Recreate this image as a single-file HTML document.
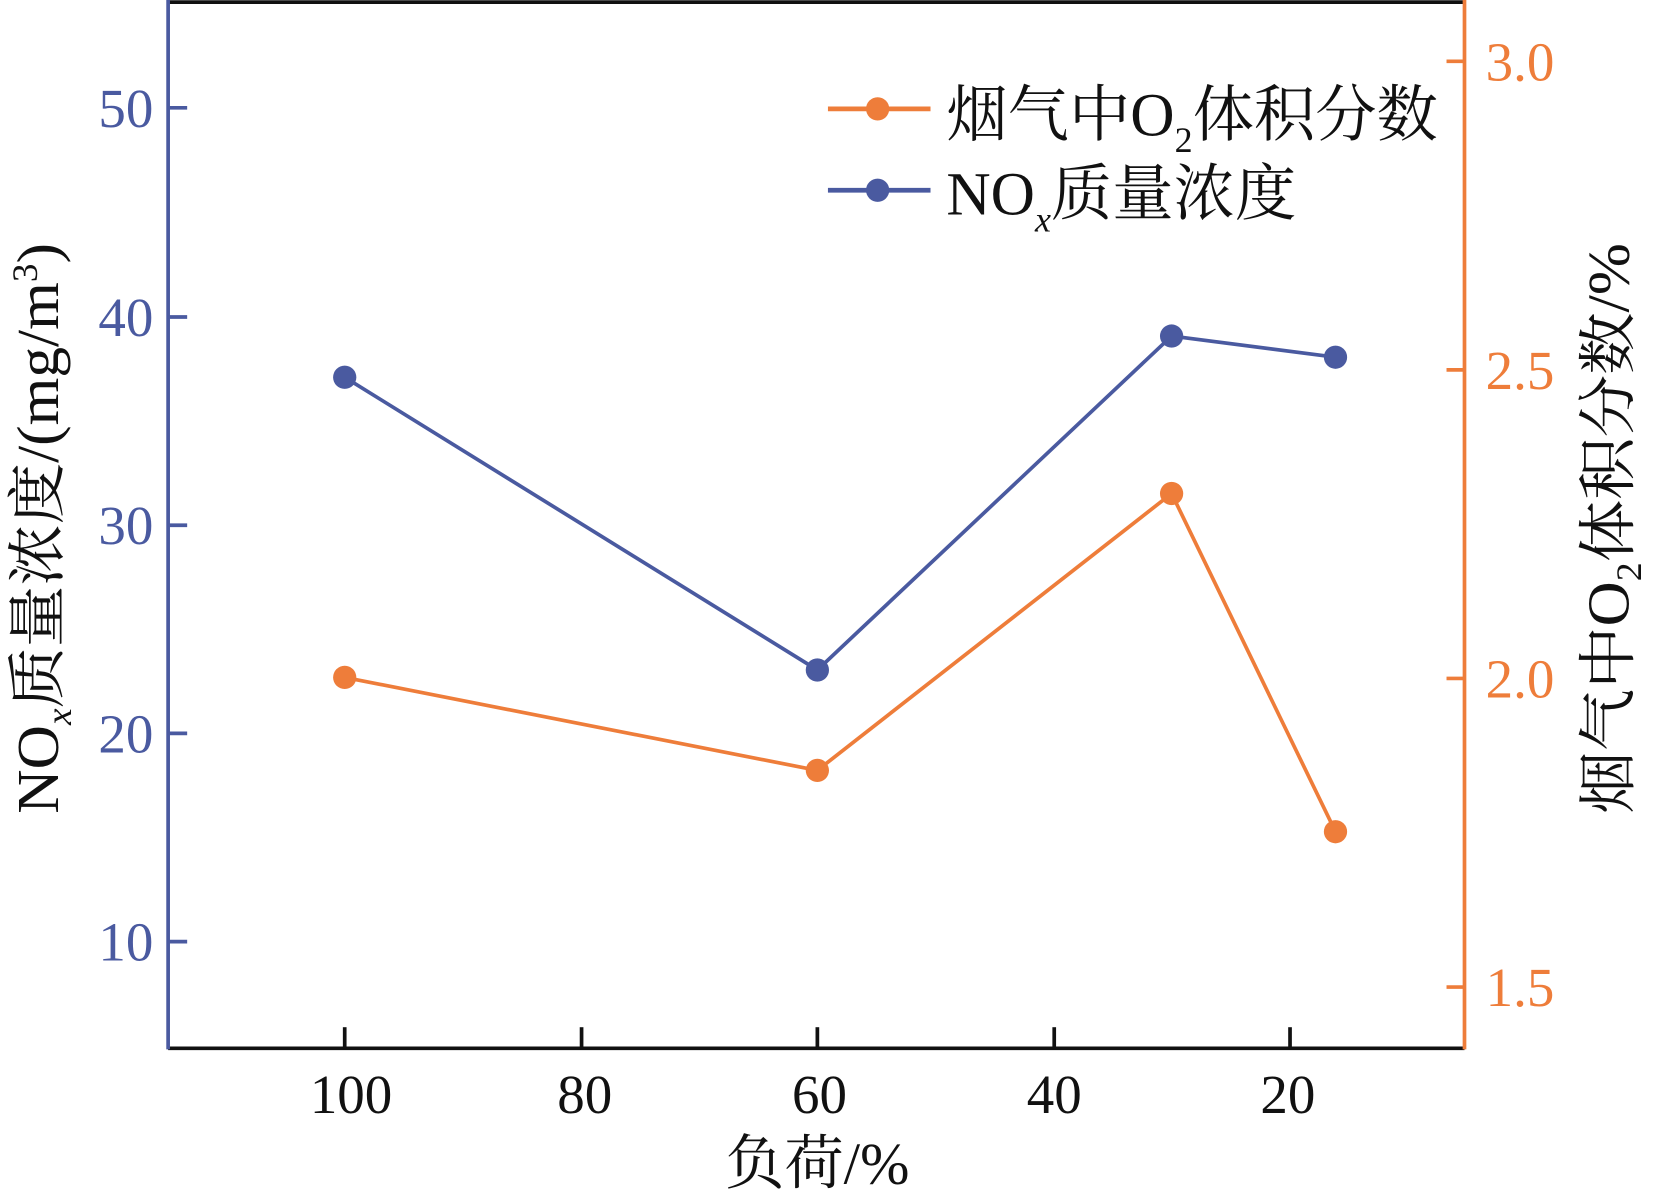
<!DOCTYPE html>
<html><head><meta charset="utf-8"><style>
html,body{margin:0;padding:0;background:#fff;}
svg{display:block;}
</style></head><body>
<svg width="1658" height="1191" viewBox="0 0 1568 1127" preserveAspectRatio="none" xmlns="http://www.w3.org/2000/svg" font-family="Liberation Serif, Noto Serif CJK SC, serif">
<rect width="1568" height="1127" fill="#fff"/>
<line x1="159" y1="2" x2="1385" y2="2" stroke="#111" stroke-width="3.5"/>
<line x1="159" y1="992" x2="1385" y2="992" stroke="#111" stroke-width="3.5"/>
<line x1="159" y1="0" x2="159" y2="993" stroke="#4a5aa0" stroke-width="3.5"/>
<line x1="1385" y1="0" x2="1385" y2="993" stroke="#ee7d3a" stroke-width="3.5"/>
<g stroke="#4a5aa0" stroke-width="3.5">
<line x1="159" y1="102" x2="177" y2="102"/><line x1="159" y1="300" x2="177" y2="300"/>
<line x1="159" y1="497" x2="177" y2="497"/><line x1="159" y1="694" x2="177" y2="694"/>
<line x1="159" y1="891" x2="177" y2="891"/></g>
<g fill="#4a5aa0" font-size="52" text-anchor="end">
<text x="145" y="120">50</text><text x="145" y="318">40</text><text x="145" y="515">30</text>
<text x="145" y="712">20</text><text x="145" y="909">10</text></g>
<g stroke="#ee7d3a" stroke-width="3.5">
<line x1="1368" y1="58" x2="1385" y2="58"/><line x1="1368" y1="350" x2="1385" y2="350"/>
<line x1="1368" y1="642" x2="1385" y2="642"/><line x1="1368" y1="934" x2="1385" y2="934"/></g>
<g fill="#ee7d3a" font-size="52">
<text x="1405" y="76">3.0</text><text x="1405" y="368">2.5</text>
<text x="1405" y="660">2.0</text><text x="1405" y="952">1.5</text></g>
<g stroke="#111" stroke-width="3.5">
<line x1="326" y1="992" x2="326" y2="972"/><line x1="550" y1="992" x2="550" y2="972"/>
<line x1="773" y1="992" x2="773" y2="972"/><line x1="997" y1="992" x2="997" y2="972"/>
<line x1="1220" y1="992" x2="1220" y2="972"/></g>
<g fill="#111" font-size="52" text-anchor="middle">
<text x="332" y="1053">100</text><text x="553" y="1053">80</text><text x="775" y="1053">60</text>
<text x="997" y="1053">40</text><text x="1218" y="1053">20</text></g>
<text x="773" y="1120" font-size="56" text-anchor="middle" fill="#111">负荷/%</text>
<text transform="translate(55,500) rotate(-90)" font-size="56" text-anchor="middle" fill="#111" textLength="540" lengthAdjust="spacingAndGlyphs">NO<tspan font-size="34" font-style="italic" dy="12">x</tspan><tspan dy="-12">质量浓度/(mg/m</tspan><tspan font-size="34" dy="-20">3</tspan><tspan dy="20">)</tspan></text>
<text transform="translate(1540,500) rotate(-90)" font-size="56" text-anchor="middle" fill="#111" textLength="540" lengthAdjust="spacingAndGlyphs">烟气中O<tspan font-size="34" dy="12">2</tspan><tspan dy="-12">体积分数/%</tspan></text>
<polyline points="326,357 773,634 1108,318 1263,338" fill="none" stroke="#4a5aa0" stroke-width="3.5"/>
<g fill="#4a5aa0"><circle cx="326" cy="357" r="11"/><circle cx="773" cy="634" r="11"/><circle cx="1108" cy="318" r="11"/><circle cx="1263" cy="338" r="11"/></g>
<polyline points="326,641 773,729 1108,467 1263,787" fill="none" stroke="#ee7d3a" stroke-width="3.5"/>
<g fill="#ee7d3a"><circle cx="326" cy="641" r="11"/><circle cx="773" cy="729" r="11"/><circle cx="1108" cy="467" r="11"/><circle cx="1263" cy="787" r="11"/></g>
<line x1="783" y1="103" x2="880" y2="103" stroke="#ee7d3a" stroke-width="4.5"/>
<circle cx="830" cy="103" r="11" fill="#ee7d3a"/>
<line x1="783" y1="180" x2="880" y2="180" stroke="#4a5aa0" stroke-width="4.5"/>
<circle cx="830" cy="180" r="11" fill="#4a5aa0"/>
<text x="895" y="128" font-size="58" fill="#111">烟气中O<tspan font-size="34" dy="16">2</tspan><tspan dy="-16">体积分数</tspan></text>
<text x="895" y="203" font-size="58" fill="#111">NO<tspan font-size="34" font-style="italic" dy="16">x</tspan><tspan dy="-16">质量浓度</tspan></text>
</svg>
</body></html>
